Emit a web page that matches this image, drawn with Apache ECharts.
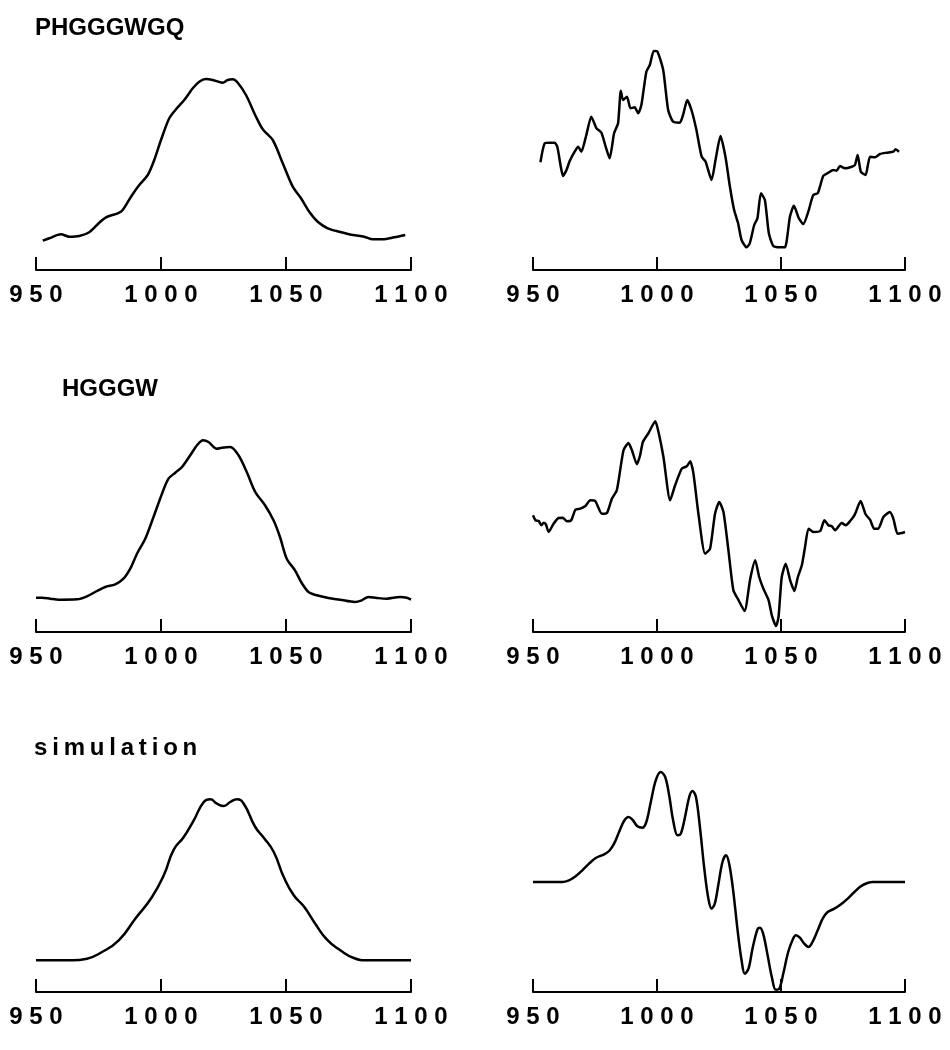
<!DOCTYPE html>
<html>
<head>
<meta charset="utf-8">
<script src="https://cdn.jsdelivr.net/npm/echarts@6/dist/echarts.min.js"></script>
<style>
html,body{margin:0;padding:0;background:#fff;}
#chart{width:950px;height:1050px;}
</style>
</head>
<body>
<div id="chart"></div>
<script>
// ---- Data (energy axis, intensity in arbitrary units) ----
const panelTitles = ['PHGGGWGQ', 'HGGGW', 's\u2009i\u2009m\u2009u\u2009l\u2009a\u2009t\u2009i\u2009o\u2009n'];
const tickValues = [950, 1000, 1050, 1100];

// Row 1 left: PHGGGWGQ absorption
const phAbsE = [952.7,955.3,960,963.3,967.3,971.3,975.3,978,982.7,984.7,988,991.3,994.7,997.3,1000,1003.3,1006,1009.3,1012.7,1015.3,1018,1020.7,1024.7,1026.7,1028.7,1030.7,1034,1038,1040.7,1044.7,1048.7,1052.7,1056,1059.3,1062.7,1066.7,1071.3,1076.7,1081.3,1084.7,1088.7,1093.3,1097.7];
const phAbsI = [29.3,31.7,35.7,33.3,34,37.7,47.3,52.7,56.7,60,73.3,85,95,110,130,151.7,160.7,170,181.7,188.3,191,190,187.3,190,190.7,187.3,175,153.3,140.7,130,106.7,83.3,71.7,58.3,48.3,41.7,38.3,35,33.3,30.7,30.7,32.7,35];

// Row 1 right: PHGGGWGQ derivative
const phDerE = [953,954.7,956.7,958.7,959.8,961.2,962.1,963.5,964.8,966.8,968.2,969.5,971.5,973.5,975.6,977.6,979.3,980.9,982.7,984.3,985.4,986.3,987.9,989.3,991,992.4,993.7,995.7,997.1,998.7,1000.2,1002.5,1004.5,1006.5,1009.2,1010.5,1012.2,1013.9,1015.9,1018,1019.6,1022,1023.6,1025.6,1027.6,1029.4,1031.1,1032.7,1034.1,1036.1,1037.4,1039.2,1040.5,1041.9,1043.5,1045.1,1046.9,1049.6,1051.6,1053.6,1055.2,1057.2,1059,1061,1063,1064.8,1065.7,1067.1,1069.1,1071.1,1072.4,1073.8,1075.8,1078.5,1079.8,1080.9,1082.2,1084.1,1085.9,1087.9,1089.9,1092.6,1095.3,1096.2,1097.6];
const phDerI = [107.7,126.7,127.3,127.3,123.3,103.3,94,100,109,118.3,123.3,118.3,135,153.3,141.7,137.3,123.3,111.7,136.7,146.7,179.3,170,173.3,161.7,162.7,156.7,165,198.3,205,219,218.3,200,160,148.3,147.3,155,170,160,140,113.3,108.3,90,110,134,113.3,83.3,60,46.7,30,22.7,26.7,45,51.7,76.7,70,36.7,24,22.7,22.7,53.3,64.3,51.7,46,58.3,75,76.7,83.3,94.3,97.3,100,99.3,104,101.7,103.3,105,115,98.3,95,113.3,112.7,116,117.3,118.3,120.7,118.3];

// Row 2 left: HGGGW absorption
const hgAbsE = [950,952.4,955.7,959.1,966.4,970.4,974.4,977.7,981.7,985,987.7,990.4,993.7,997,1000.4,1003,1005.7,1008.4,1011.7,1014.4,1016.8,1019,1022.3,1024.3,1027.7,1031,1034.3,1037.7,1041.6,1045,1047.6,1050.3,1053.6,1056.3,1059,1062.3,1067,1071.6,1077.6,1080.3,1082.9,1086.3,1090.3,1095.6,1098.3,1100];
const hgAbsI = [34.3,34.3,33.3,32.3,32.7,35.7,41,45,47.7,53.3,63.3,78.3,93.3,115,138.3,153.3,159.3,165,176.7,186.7,191.7,190,183.3,184.3,185,176.7,160,140,126.7,111.7,95,73.3,61.7,49,40,36.7,34,32.3,30,31.7,35,34,33.3,35,34.3,32.3];

// Row 2 right: HGGGW derivative
const hgDerE = [950,951,952.3,953.4,954.3,955.2,956.3,958.3,960.3,962,963.7,965.4,967.1,969.1,971.1,973.1,975.1,977.8,979.8,981.8,983.8,986.5,988.5,989.9,991.9,993.2,994.3,996.6,999.3,1000.6,1002.6,1005.3,1007.3,1010,1012,1013.4,1014.7,1016.7,1019.4,1021.4,1023.4,1025.1,1026.8,1028.8,1030.8,1032.9,1035.3,1037.6,1039.6,1041.2,1042.9,1045,1046.3,1048,1049,1050.3,1051.9,1053.7,1055.4,1056.8,1058.4,1059.7,1061.1,1063.1,1065.8,1067.5,1069.1,1070.5,1071.8,1074.5,1076.1,1077.8,1079.8,1082.1,1084.1,1085.9,1087.6,1089.2,1091.3,1093.9,1095.3,1097,1098.7,1100];
const hgDerI = [116.7,111.7,111,106.7,109.3,107.7,100,108.3,114,114.3,110.7,111.7,122.3,123.3,126,131.7,131,118.3,119,133.3,141.7,181.7,189,181.7,167.7,176.7,190,199,210.7,200,175,131.7,146.7,163.3,165.7,170.7,158.3,118.3,78.3,83.3,118.3,130,120,81.7,41.7,31.7,21,53.3,71.7,55,43.3,31.7,16.7,6,15,55,68.3,51.7,41,55,66.7,85,103.3,100,101,111.7,106.7,105.7,101.7,109,106.7,110.7,117.7,131,117.7,112.3,103.3,103.3,115,120,113.3,98.3,99,100];

// Row 3 left: simulated absorption
const simAbsE = [950,964.4,970.4,975.7,983.1,989.7,996.4,1001.1,1005.1,1009.1,1013.1,1017.1,1019.7,1022.4,1025.1,1027.7,1030.4,1033.1,1037.7,1041.1,1045.1,1049.1,1053.1,1057.1,1061.7,1066.4,1071.7,1077.1,1082.4,1100];
const simAbsI = [31.7,31.7,33.3,39,51.7,73.3,95,116.7,142.3,155,171.7,190,192.7,188.3,186,190,192.7,188.3,165,154.3,140,115,96.7,85.7,68.3,52.3,41.7,34,31.7,31.7];

// Row 3 right: simulated derivative
const simDerE = [950,961.8,964.5,967.2,969.9,972.6,975.3,978.7,980.7,982.7,984.7,986.7,988.5,990.1,992.1,994.1,995.7,997.5,999.5,1001.5,1003.3,1004.9,1006.5,1008.3,1009.6,1011.3,1013,1014.3,1015.7,1017.3,1019,1020.6,1022,1023.3,1024.8,1026.4,1027.8,1029.1,1030.7,1032.5,1034.1,1035.4,1036.9,1038.5,1040.5,1041.5,1042.8,1044.6,1046.3,1047.9,1049.3,1050.9,1052.9,1054.7,1056,1057.6,1059.4,1061.1,1062.7,1064.8,1066.8,1068.8,1071.5,1074.2,1076.9,1079.6,1082.2,1084.9,1087,1100];
const simDerI = [110,110,111.7,115.7,121.7,128.3,134,137.7,141,148.3,160,171,175,172.3,165.7,164.3,170,190,211.7,220,215,196.7,171.7,156.7,158.3,175,195,201,195,165,125,95,83.3,88.3,108.3,130,136.7,128.3,101.7,61.7,31.7,18.3,23.3,43.3,62.7,64.3,58.3,36.7,15,2.3,3.3,18.3,40,52.3,56.7,54.3,48.3,45,50,61.7,73.3,80,83.3,87.7,93.3,100,105.7,109,110,110];

// ---- Layout ----
const panels = [
  {E: phAbsE, I: phAbsI, left: 36, width: 375, axisY: 270, smooth: 0.3},
  {E: phDerE, I: phDerI, left: 533, width: 372, axisY: 270, smooth: 0.2},
  {E: hgAbsE, I: hgAbsI, left: 36, width: 375, axisY: 632, smooth: 0.3},
  {E: hgDerE, I: hgDerI, left: 533, width: 372, axisY: 632, smooth: 0.2},
  {E: simAbsE, I: simAbsI, left: 36, width: 375, axisY: 992, smooth: 0.5},
  {E: simDerE, I: simDerI, left: 533, width: 372, axisY: 992, smooth: 0.35}
];
const gridH = 250;
const FONT = '"Liberation Sans", Arial, Helvetica, sans-serif';

const grid = [], xAxis = [], yAxis = [], series = [];
panels.forEach((p, i) => {
  grid.push({left: p.left, width: p.width, top: p.axisY - gridH, height: gridH});
  xAxis.push({
    type: 'value', gridIndex: i, min: 950, max: 1100, interval: 50,
    axisLine: {show: true, onZero: false, lineStyle: {color: '#000', width: 2}},
    axisTick: {show: true, inside: true, length: 13, lineStyle: {color: '#000', width: 2}},
    splitLine: {show: false},
    axisLabel: {
      show: true, margin: 13, color: '#000', fontSize: 24, fontWeight: 'bold', fontFamily: FONT,
      formatter: v => tickValues.includes(v) ? String(v).split('').join(' ') : ''
    }
  });
  yAxis.push({type: 'value', gridIndex: i, min: 0, max: gridH, show: false});
  series.push({
    type: 'line', xAxisIndex: i, yAxisIndex: i, showSymbol: false, smooth: p.smooth,
    lineStyle: {color: '#000', width: 2.5}, silent: true, animation: false,
    data: p.E.map((e, k) => [e, p.I[k]])
  });
});

const titleStyle = {color: '#000', fontSize: 24, fontWeight: 'bold', fontFamily: FONT};
const title = [
  {text: panelTitles[0], left: 30, top: 11, textStyle: titleStyle},
  {text: panelTitles[1], left: 57, top: 372, textStyle: titleStyle},
  {text: panelTitles[2], left: 29, top: 731, textStyle: titleStyle}
];

const chart = echarts.init(document.getElementById('chart'), null, {renderer: 'canvas'});
chart.setOption({backgroundColor: '#fff', animation: false, title, grid, xAxis, yAxis, series});
</script>
</body>
</html>
